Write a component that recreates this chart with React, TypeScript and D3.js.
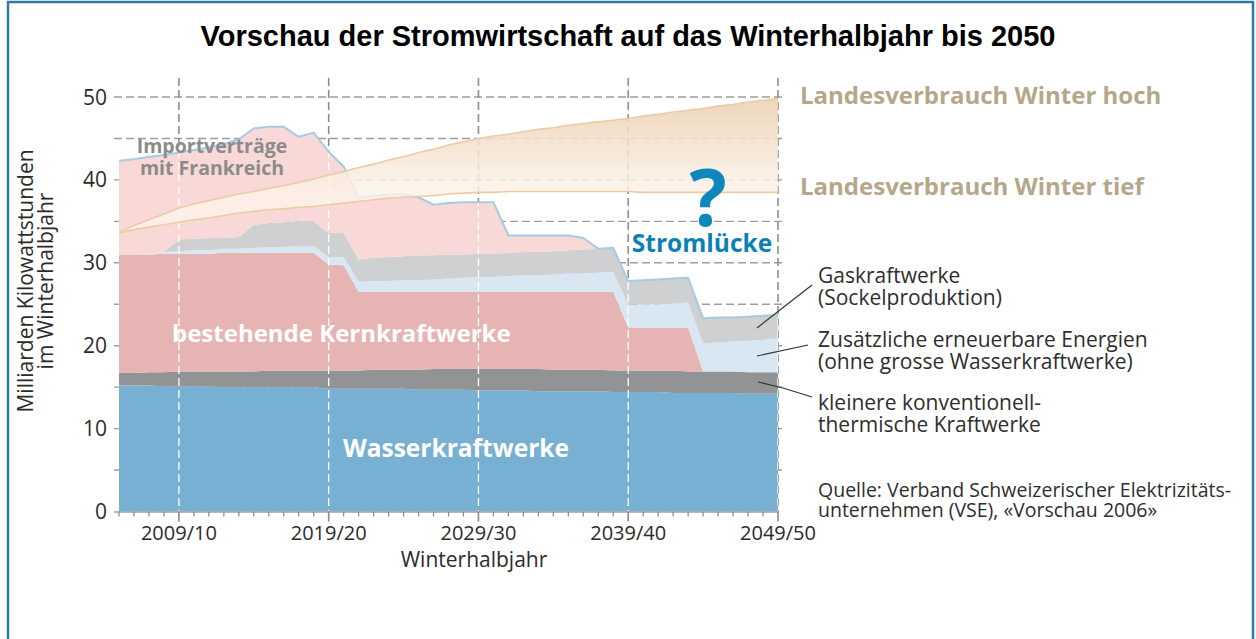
import React from 'react';
import * as d3 from 'd3';

// Winter half-years (2005 = 2005/06 ... 2049 = 2049/50)
const years = [2005, 2006, 2007, 2008, 2009, 2010, 2011, 2012, 2013, 2014, 2015, 2016, 2017, 2018, 2019, 2020, 2021, 2022, 2023, 2024, 2025, 2026, 2027, 2028, 2029, 2030, 2031, 2032, 2033, 2034, 2035, 2036, 2037, 2038, 2039, 2040, 2041, 2042, 2043, 2044, 2045, 2046, 2047, 2048, 2049];
const tickYears = [2009, 2019, 2029, 2039, 2049];
const tickLabels = ['2009/10', '2019/20', '2029/30', '2039/40', '2049/50'];
const yTickLabels = [0, 10, 20, 30, 40, 50];
const yGrid = [5, 10, 15, 20, 25, 30, 35, 40, 45, 50];

// Series values (Mrd. kWh)
const hydro = [15.2, 15.2, 15.2, 15.1, 15.1, 15.1, 15.1, 15.0, 15.0, 15.0, 15.0, 15.0, 15.0, 15.0, 14.8, 14.8, 14.8, 14.8, 14.8, 14.8, 14.7, 14.7, 14.7, 14.7, 14.6, 14.6, 14.6, 14.6, 14.5, 14.5, 14.5, 14.5, 14.5, 14.4, 14.4, 14.4, 14.4, 14.3, 14.3, 14.3, 14.3, 14.3, 14.2, 14.2, 14.2];
const thermal = [1.5, 1.5, 1.6, 1.7, 1.8, 1.8, 1.8, 1.9, 1.9, 1.9, 2.0, 2.0, 2.0, 2.0, 2.2, 2.2, 2.2, 2.3, 2.3, 2.3, 2.4, 2.5, 2.5, 2.5, 2.6, 2.6, 2.6, 2.6, 2.7, 2.6, 2.6, 2.6, 2.6, 2.6, 2.6, 2.6, 2.6, 2.7, 2.6, 2.6, 2.6, 2.6, 2.6, 2.6, 2.6];
const nuclear = [14.3, 14.3, 14.2, 14.3, 14.2, 14.2, 14.2, 14.3, 14.3, 14.3, 14.2, 14.2, 14.2, 14.2, 12.8, 12.7, 9.5, 9.4, 9.4, 9.4, 9.4, 9.3, 9.3, 9.3, 9.3, 9.3, 9.3, 9.3, 9.3, 9.4, 9.4, 9.4, 9.4, 9.5, 5.2, 5.2, 5.2, 5.2, 5.3, 0, 0, 0, 0, 0, 0];
const renewables = [0, 0, 0.1, 0.2, 0.3, 0.4, 0.4, 0.5, 0.5, 0.6, 0.7, 0.7, 0.8, 0.8, 0.9, 1.0, 1.2, 1.3, 1.3, 1.4, 1.4, 1.5, 1.6, 1.7, 1.8, 1.8, 1.9, 2.0, 2.0, 2.1, 2.2, 2.2, 2.3, 2.4, 2.7, 2.8, 2.8, 2.9, 3.0, 3.4, 3.5, 3.6, 3.8, 3.9, 4.1];
const gas = [0, 0, 0, 0, 1.4, 1.4, 1.5, 1.3, 1.4, 2.8, 2.9, 3.0, 3.0, 3.0, 2.9, 2.9, 2.7, 2.8, 2.9, 2.9, 3.0, 2.9, 2.9, 2.8, 2.8, 2.8, 2.8, 2.8, 2.8, 2.8, 2.8, 2.9, 2.9, 2.9, 2.9, 2.9, 3.0, 3.0, 3.0, 3.0, 3.0, 2.9, 2.9, 2.9, 2.8];
const imports = [11.3, 11.5, 11.7, 11.7, 10.5, 10.7, 10.9, 11.3, 11.8, 11.6, 11.6, 11.5, 10.2, 10.7, 9.8, 8.0, 7.5, 7.5, 7.5, 7.5, 7.0, 6.1, 6.2, 6.3, 6.2, 6.2, 2.1, 2.0, 2.0, 1.9, 1.8, 1.4, 0, 0, 0, 0, 0, 0, 0, 0, 0, 0, 0, 0, 0];
const demandLow = [33.6, 34.0, 34.3, 34.6, 34.9, 35.2, 35.4, 35.7, 36.0, 36.2, 36.4, 36.5, 36.7, 36.8, 37.0, 37.2, 37.4, 37.6, 37.8, 37.9, 38.0, 38.1, 38.3, 38.4, 38.5, 38.5, 38.6, 38.6, 38.6, 38.6, 38.6, 38.6, 38.6, 38.6, 38.6, 38.5, 38.5, 38.5, 38.5, 38.5, 38.5, 38.5, 38.5, 38.5, 38.5];
const demandHigh = [33.7, 34.5, 35.2, 35.9, 36.6, 37.1, 37.5, 37.9, 38.3, 38.6, 39.0, 39.3, 39.7, 40.1, 40.6, 41.0, 41.5, 41.9, 42.4, 42.8, 43.3, 43.7, 44.2, 44.6, 45.0, 45.3, 45.5, 45.8, 46.1, 46.3, 46.6, 46.8, 47.0, 47.2, 47.4, 47.7, 47.9, 48.2, 48.4, 48.6, 48.9, 49.1, 49.4, 49.6, 49.8];

const seriesKeys = ['hydro', 'thermal', 'nuclear', 'renewables', 'gas', 'imports'];
const seriesColors = ['#77b0d2', '#929395', '#e6b4b2', '#d8e7f2', '#cfd0d2', '#f9d9d7'];

const SANS = "'Open Sans', 'DejaVu Sans', sans-serif";

export default function App() {
  const W = 1256;
  const H = 639;
  const x = d3.scaleLinear().domain([2005, 2049]).range([119, 778]);
  const y = d3.scaleLinear().domain([0, 50]).range([511.5, 97]);

  const rows = years.map((yr, i) => ({
    year: yr,
    hydro: hydro[i],
    thermal: thermal[i],
    nuclear: nuclear[i],
    renewables: renewables[i],
    gas: gas[i],
    imports: imports[i],
    low: demandLow[i],
    high: demandHigh[i],
  }));

  const stacked = d3.stack<any>().keys(seriesKeys)(rows);
  const area = d3
    .area<any>()
    .x((d) => x(d.data.year))
    .y0((d) => y(d[0]))
    .y1((d) => y(d[1]));
  const top = stacked[stacked.length - 1];
  const totalArea = d3
    .area<any>()
    .x((d) => x(d.data.year))
    .y0(() => y(0))
    .y1((d) => y(d[1]));
  const topLine = d3
    .line<any>()
    .x((d) => x(d.data.year))
    .y((d) => y(d[1]));

  const bandArea = d3
    .area<any>()
    .x((d) => x(d.year))
    .y0((d) => y(d.low))
    .y1((d) => y(d.high));
  const lowLine = d3.line<any>().x((d) => x(d.year)).y((d) => y(d.low));
  const highLine = d3.line<any>().x((d) => x(d.year)).y((d) => y(d.high));

  const xTicks = years;

  return (
    <svg
      width={W}
      height={H}
      style={{ position: 'absolute', left: 0, top: 0, background: '#fff' }}
      fontFamily={SANS}
    >
      <defs>
        <linearGradient id="bandGrad" gradientUnits="userSpaceOnUse" x1="0" y1={y(50)} x2="0" y2={y(38.5)}>
          <stop offset="0" stopColor="#ebd1b1" stopOpacity={0.9} />
          <stop offset="1" stopColor="#fcf3ea" stopOpacity={0.82} />
        </linearGradient>
        <clipPath id="stackClip">
          <path d={totalArea(top) || ''} />
        </clipPath>
      </defs>

      <rect x={0} y={0} width={W} height={H} fill="#fff" />
      {/* frame */}
      <rect x={8} y={2} width={1245} height={700} fill="none" stroke="#2a7ca0" strokeWidth={2.5} />

      {/* title */}
      <text
        x={628}
        y={46}
        textAnchor="middle"
        fontFamily="'Liberation Sans', Arial, sans-serif"
        fontWeight="bold"
        fontSize={29}
        fill="#000"
      >
        Vorschau der Stromwirtschaft auf das Winterhalbjahr bis 2050
      </text>

      {/* horizontal grid */}
      {yGrid.map((v) => (
        <line
          key={'hg' + v}
          x1={114}
          x2={786}
          y1={y(v)}
          y2={y(v)}
          stroke="#9d9d9d"
          strokeWidth={1.4}
          strokeDasharray="8,4"
        />
      ))}
      {/* vertical grid (grey) */}
      {tickYears.map((t) => (
        <line
          key={'vg' + t}
          x1={x(t)}
          x2={x(t)}
          y1={78}
          y2={y(0)}
          stroke="#8e8e8e"
          strokeWidth={1.6}
          strokeDasharray="8,4"
        />
      ))}

      {/* stacked areas */}
      {stacked.map((s, i) => (
        <path key={s.key} d={area(s) || ''} fill={seriesColors[i]} stroke="none" />
      ))}

      {/* white dashed verticals inside areas */}
      <g clipPath="url(#stackClip)">
        {tickYears.map((t) => (
          <line
            key={'vw' + t}
            x1={x(t)}
            x2={x(t)}
            y1={78}
            y2={y(0)}
            stroke="#ffffff"
            strokeWidth={1.3}
            strokeDasharray="8,4"
          />
        ))}
      </g>

      {/* outline of total supply */}
      <path d={topLine(top) || ''} fill="none" stroke="#a6cbe3" strokeWidth={2} />

      {/* consumption band */}
      <path d={bandArea(rows) || ''} fill="url(#bandGrad)" stroke="none" />
      <path d={highLine(rows) || ''} fill="none" stroke="#eecaa2" strokeWidth={1.6} />
      <path d={lowLine(rows) || ''} fill="none" stroke="#eecaa2" strokeWidth={1.6} />

      {/* x axis */}
      <line x1={114} x2={779} y1={y(0) + 0.5} y2={y(0) + 0.5} stroke="#a0a0a0" strokeWidth={1.5} />
      {xTicks.map((t) => {
        const major = tickYears.includes(t);
        return (
          <line
            key={'xt' + t}
            x1={x(t)}
            x2={x(t)}
            y1={y(0)}
            y2={y(0) + (major ? 10 : 5)}
            stroke="#8a8a8a"
            strokeWidth={major ? 1.6 : 1.2}
          />
        );
      })}
      {tickYears.map((t, i) => (
        <text key={'xl' + t} x={x(t)} y={540} textAnchor="middle" fontSize={20} fill="#2b2b2b">
          {tickLabels[i]}
        </text>
      ))}
      <text x={474} y={567} textAnchor="middle" fontSize={21} fill="#2b2b2b">
        Winterhalbjahr
      </text>

      {/* y axis labels */}
      {yTickLabels.map((v) => (
        <text key={'yl' + v} x={107} y={y(v) + 7.5} textAnchor="end" fontSize={21} fill="#2b2b2b">
          {v}
        </text>
      ))}
      <g transform="translate(33,281) rotate(-90)">
        <text x={0} y={0} textAnchor="middle" fontSize={21} fill="#2b2b2b">
          Milliarden Kilowattstunden
        </text>
      </g>
      <g transform="translate(53,281) rotate(-90)">
        <text x={0} y={0} textAnchor="middle" fontSize={21} fill="#2b2b2b">
          im Winterhalbjahr
        </text>
      </g>

      {/* in-chart labels */}
      <text x={212} y={153} textAnchor="middle" fontSize={19.5} fontWeight="bold" fill="#8b8b8b">
        Importverträge
      </text>
      <text x={212} y={175} textAnchor="middle" fontSize={19.5} fontWeight="bold" fill="#8b8b8b">
        mit Frankreich
      </text>
      <text x={172} y={342} fontSize={24} fontWeight="bold" fill="#ffffff">
        bestehende Kernkraftwerke
      </text>
      <text x={343} y={457} fontSize={24.5} fontWeight="bold" fill="#ffffff">
        Wasserkraftwerke
      </text>
      <text x={708} y={226} textAnchor="middle" fontSize={78} fontWeight="bold" fill="#0e87bc">
        ?
      </text>
      <text x={702} y={252} textAnchor="middle" fontSize={24.5} fontWeight="bold" fill="#0b80b5">
        Stromlücke
      </text>
      <text x={800} y={104} fontSize={24} fontWeight="bold" fill="#b6a68a">
        Landesverbrauch Winter hoch
      </text>
      <text x={800} y={195} fontSize={24} fontWeight="bold" fill="#b6a68a">
        Landesverbrauch Winter tief
      </text>

      {/* leader lines */}
      <line x1={757} y1={328} x2={812} y2={285} stroke="#333" strokeWidth={1.2} />
      <line x1={757} y1={356} x2={808} y2={345} stroke="#333" strokeWidth={1.2} />
      <polyline points="758,382 783,388 812,397" fill="none" stroke="#333" strokeWidth={1.2} />

      {/* annotations */}
      <g fontSize={21} fill="#2e2e2e">
        <text x={818} y={283}>Gaskraftwerke</text>
        <text x={818} y={305}>(Sockelproduktion)</text>
        <text x={818} y={347}>Zusätzliche erneuerbare Energien</text>
        <text x={818} y={369}>(ohne grosse Wasserkraftwerke)</text>
        <text x={818} y={410}>kleinere konventionell-</text>
        <text x={818} y={432}>thermische Kraftwerke</text>
      </g>
      <g fontSize={19.5} fill="#2e2e2e">
        <text x={818} y={497}>Quelle: Verband Schweizerischer Elektrizitäts-</text>
        <text x={818} y={517}>unternehmen (VSE), «Vorschau 2006»</text>
      </g>
    </svg>
  );
}
